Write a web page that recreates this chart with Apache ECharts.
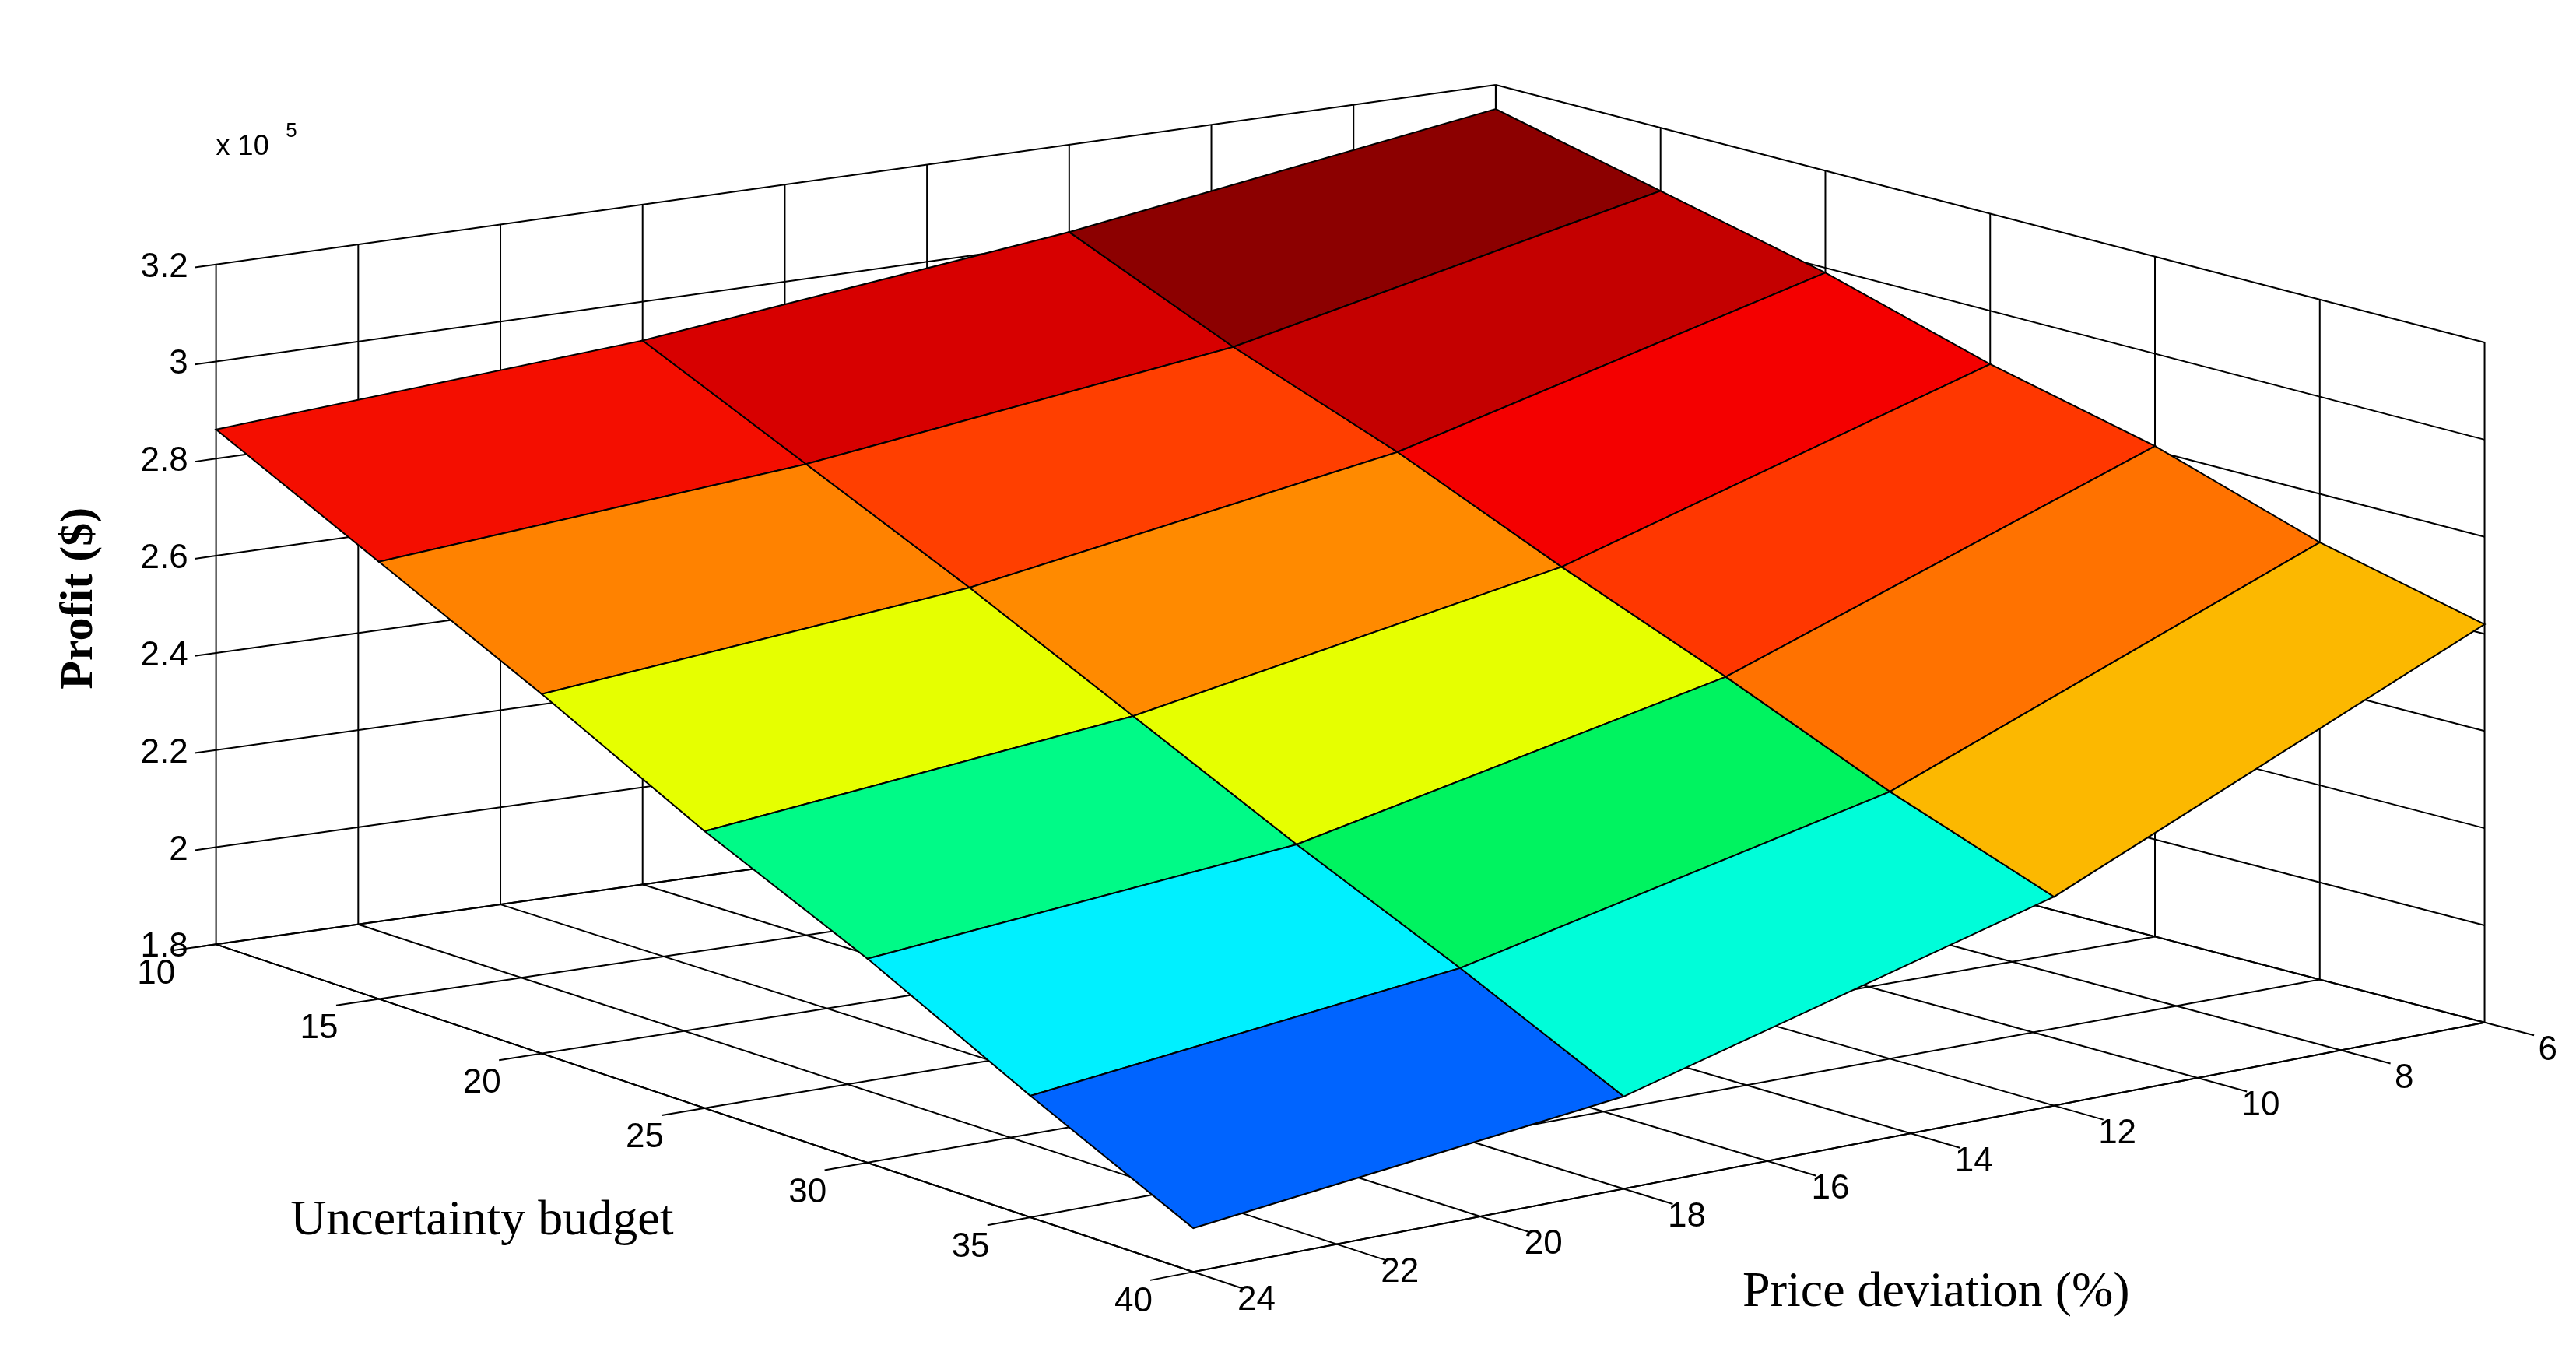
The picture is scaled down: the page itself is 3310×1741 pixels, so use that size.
<!DOCTYPE html>
<html><head><meta charset="utf-8">
<script src="https://cdn.jsdelivr.net/npm/echarts@6/dist/echarts.min.js"></script>
<style>html,body{margin:0;padding:0;background:#fff}#c{width:3310px;height:1741px}</style>
</head><body><div id="c"></div>
<script>
// ---- data ----
const budgets = [10, 15, 20, 25, 30, 35, 40];            // Uncertainty budget grid
const prices = [24, 18, 12, 6];                           // Price deviation (%) grid
const profit24 = [2.86, 2.70, 2.54, 2.37, 2.22, 2.05, 1.89]; // x1e5
const profit18 = [2.92, 2.77, 2.62, 2.46, 2.30, 2.15, 1.99];
const profit12 = [3.02, 2.88, 2.76, 2.62, 2.49, 2.35, 2.23];
const profit6  = [3.15, 3.07, 2.99, 2.89, 2.81, 2.70, 2.62];
const profitRows = [profit24, profit18, profit12, profit6];
const zTicks = [1.8, 2.0, 2.2, 2.4, 2.6, 2.8, 3.0, 3.2];
const zTickLabels = ['1.8', '2', '2.2', '2.4', '2.6', '2.8', '3', '3.2'];
const budgetTicks = [10, 15, 20, 25, 30, 35, 40];
const priceTicks = [24, 22, 20, 18, 16, 14, 12, 10, 8, 6];

// ---- colour map (value -> colour) ----
const cmap = [[2.10,[0,80,255]],[2.15,[0,100,255]],[2.30,[0,240,255]],[2.36,[0,255,210]],[2.47,[0,250,128]],
  [2.50,[0,240,80]],[2.62,[230,255,0]],[2.71,[255,175,0]],[2.77,[255,130,0]],[2.82,[255,110,0]],
  [2.89,[255,55,0]],[2.93,[240,0,0]],[3.00,[245,0,0]],[3.03,[200,0,0]],[3.08,[195,0,0]],[3.15,[140,0,0]]];
function colorOf(v){
  if(v<=cmap[0][0]) return 'rgb('+cmap[0][1].join(',')+')';
  for(let k=1;k<cmap.length;k++){ if(v<=cmap[k][0]){ const a=cmap[k-1],b=cmap[k],t=(v-a[0])/(b[0]-a[0]);
    return 'rgb('+a[1].map((c,i)=>Math.round(c+(b[1][i]-c)*t)).join(',')+')'; } }
  return 'rgb('+cmap[cmap.length-1][1].join(',')+')';
}

// ---- view geometry (box corners in a 1550x815 design space) ----
const V = {A:[130,568], B:[718,765], C:[1495,615], D:[900,460], H:409/1.4, zMin:1.8, zMax:3.2};
function P(b,p,z){
  const u=(b-10)/30, v=(24-p)/18;
  const x=V.A[0]*(1-u)*(1-v)+V.B[0]*u*(1-v)+V.C[0]*u*v+V.D[0]*(1-u)*v;
  const y=V.A[1]*(1-u)*(1-v)+V.B[1]*u*(1-v)+V.C[1]*u*v+V.D[1]*(1-u)*v;
  return [x, y-(z-V.zMin)*V.H];
}

// ---- build segments (3D) ----
const segs=[];
const zT=V.zMax, z0=V.zMin;
priceTicks.forEach(p=>segs.push([10,p,z0,10,p,zT]));                 // left wall verticals
zTicks.forEach(z=>segs.push([10,24,z,10,6,z]));                       // left wall horizontals
budgetTicks.forEach(b=>segs.push([b,6,z0,b,6,zT]));                   // back wall verticals
zTicks.forEach(z=>segs.push([10,6,z,40,6,z]));                        // back wall horizontals
budgetTicks.forEach(b=>segs.push([b,24.6,z0,b,6,z0]));                // floor lines + ticks
priceTicks.forEach(p=>segs.push([10,p,z0,41.5,p,z0]));
zTicks.forEach(z=>segs.push([10,24,z,10,24.3,z]));                    // z ticks
segs.push([40,24,z0,40,6,z0]); segs.push([10,24,z0,40,24,z0]);

const patches=[];
for(let j=0;j<prices.length-1;j++) for(let i=0;i<budgets.length-1;i++) patches.push([i,j]);

const S=3310/1550;
const chart=echarts.init(document.getElementById('c'));
function pt(api,q){ return api.coord(q); }
const sansFont='"Liberation Sans Narrow","Liberation Sans",Arial,sans-serif';
const serifFont='"Liberation Serif","Times New Roman",serif';

const labels=[];
zTicks.forEach((z,k)=>{ const q=P(10,24.3,z); labels.push({x:q[0]-4,y:q[1],t:zTickLabels[k],al:'right',bl:'middle'}); });
budgetTicks.forEach(b=>{ const q=P(b,24,z0); labels.push({x:q[0]-36,y:q[1]+18,t:String(b),al:'center',bl:'middle'}); });
priceTicks.forEach(p=>{ const q=P(40,p,z0); labels.push({x:q[0]+38,y:q[1]+17,t:String(p),al:'center',bl:'middle'}); });

chart.setOption({
  animation:false,
  grid:{left:0,right:0,top:0,bottom:0},
  xAxis:{type:'value',min:0,max:1550,show:false},
  yAxis:{type:'value',min:0,max:815,inverse:true,show:false},
  series:[
    {type:'custom',data:segs,silent:true,z:1,renderItem:(params,api)=>{
      const s=segs[params.dataIndex];
      const a=pt(api,P(s[0],s[1],s[2])), b=pt(api,P(s[3],s[4],s[5]));
      return {type:'line',shape:{x1:a[0],y1:a[1],x2:b[0],y2:b[1]},style:{stroke:'#000',lineWidth:2}};
    }},
    {type:'custom',data:patches,silent:true,z:2,renderItem:(params,api)=>{
      const [i,j]=patches[params.dataIndex];
      const b0=budgets[i],b1=budgets[i+1],p0=prices[j],p1=prices[j+1];
      const z00=profitRows[j][i],z10=profitRows[j][i+1],z11=profitRows[j+1][i+1],z01=profitRows[j+1][i];
      const pts=[P(b0,p0,z00),P(b1,p0,z10),P(b1,p1,z11),P(b0,p1,z01)].map(q=>pt(api,q));
      const v=Math.max(z00,z10,z11,z01);
      return {type:'polygon',shape:{points:pts},style:{fill:colorOf(v),stroke:'#000',lineWidth:2}};
    }},
    {type:'custom',data:labels,silent:true,z:3,renderItem:(params,api)=>{
      const L=labels[params.dataIndex]; const q=pt(api,[L.x,L.y]);
      return {type:'text',x:q[0],y:q[1],style:{text:L.t,font:'44px '+sansFont,fill:'#000',align:L.al,verticalAlign:L.bl}};
    }}
  ],
  graphic:[
    {type:'text',left:130*S,top:80*S,style:{text:'x 10',font:'36px '+sansFont,fill:'#000'}},
    {type:'text',left:172*S,top:73*S,style:{text:'5',font:'26px '+sansFont,fill:'#000'}},
    {type:'text',x:48*S,y:360*S,rotation:Math.PI/2,style:{text:'Profit ($)',font:'bold 60px '+serifFont,fill:'#000',align:'center',verticalAlign:'middle'}},
    {type:'text',x:290*S,y:735*S,style:{text:'Uncertainty budget',font:'64px '+serifFont,fill:'#000',align:'center',verticalAlign:'middle'}},
    {type:'text',x:1165*S,y:778*S,style:{text:'Price deviation (%)',font:'64px '+serifFont,fill:'#000',align:'center',verticalAlign:'middle'}}
  ]
});
</script></body></html>
